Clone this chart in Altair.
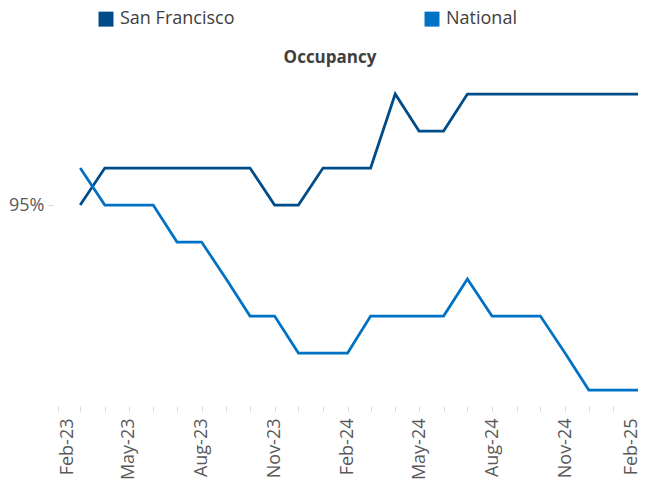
import altair as alt
import pandas as pd

months = ["2023-03-01", "2023-04-01", "2023-05-01", "2023-06-01", "2023-07-01", "2023-08-01",
          "2023-09-01", "2023-10-01", "2023-11-01", "2023-12-01", "2024-01-01", "2024-02-01",
          "2024-03-01", "2024-04-01", "2024-05-01", "2024-06-01", "2024-07-01", "2024-08-01",
          "2024-09-01", "2024-10-01", "2024-11-01", "2024-12-01", "2025-01-01", "2025-02-01"]

san_francisco = [0.950, 0.951, 0.951, 0.951, 0.951, 0.951, 0.951, 0.951, 0.950, 0.950, 0.951, 0.951,
                 0.951, 0.953, 0.952, 0.952, 0.953, 0.953, 0.953, 0.953, 0.953, 0.953, 0.953, 0.953]

national = [0.951, 0.950, 0.950, 0.950, 0.949, 0.949, 0.948, 0.947, 0.947, 0.946, 0.946, 0.946,
            0.947, 0.947, 0.947, 0.947, 0.948, 0.947, 0.947, 0.947, 0.946, 0.945, 0.945, 0.945]

series = ["San Francisco", "National"]
colors = ["#004C88", "#0072C6"]

rows = []
for m, v in zip(months, san_francisco):
    rows.append({"date": m, "series": series[0], "value": v})
for m, v in zip(months, national):
    rows.append({"date": m, "series": series[1], "value": v})
df = pd.DataFrame(rows)

tick_months = [alt.DateTime(year=2023 + (1 + i) // 12, month=((1 + i) % 12) + 1, date=1, utc=True)
               for i in range(25)]

FONT = "Open Sans"

label_offset = {
    "condition": [
        {"test": "utcyear(datum.value) == 2023 && utcmonth(datum.value) == 1", "value": 9},
        {"test": "utcyear(datum.value) == 2025", "value": -7},
    ],
    "value": 0,
}

chart = alt.Chart(df).mark_line(strokeWidth=2.75).encode(
    x=alt.X("date:T",
            scale=alt.Scale(type="utc",
                            domain=[alt.DateTime(year=2023, month=2, date=1, utc=True),
                                    alt.DateTime(year=2025, month=2, date=1, utc=True)]),
            axis=alt.Axis(title=None, values=tick_months,
                          labelExpr="utcFormat(datum.value, '%m') % 3 == 2 ? utcFormat(datum.value, '%b-%y') : ''",
                          labelAngle=270, labelFont=FONT, labelFontSize=18, labelColor="#595959",
                          labelOffset=label_offset,
                          labelPadding=7, tickSize=5, tickColor="#d9d9d9", domain=False,
                          grid=False, labelOverlap=False, labelFlush=False, labelBound=False)),
    y=alt.Y("value:Q",
            scale=alt.Scale(domain=[0.944568, 0.953514], nice=False, zero=False),
            axis=alt.Axis(title=None, values=[0.95], format=".0%", labelFont=FONT,
                          labelFontSize=18, labelColor="#595959", tickSize=5, offset=5,
                          tickColor="#d9d9d9", domain=False, grid=False, labelPadding=4)),
    color=alt.Color("series:N", sort=series,
                    scale=alt.Scale(domain=series, range=colors),
                    legend=alt.Legend(title=None, orient="none", direction="horizontal",
                                      legendX=39, legendY=-65, padding=0,
                                      symbolType="square", symbolSize=56, symbolStrokeWidth=7.5,
                                      labelFont=FONT, labelFontSize=18, labelColor="#404040",
                                      labelOffset=5, columnPadding=178)),
).properties(
    width=580,
    height=331,
    title=alt.TitleParams("Occupancy", font=FONT, fontSize=17, fontWeight="bold",
                          color="#404040", dx=-18, offset=-57),
    autosize=alt.AutoSizeParams(type="none"),
    padding={"left": 50, "top": 67, "right": 0, "bottom": 80},
).configure_view(stroke=None)

chart.save("out.html", embed_options={"renderer": "svg", "actions": False})
